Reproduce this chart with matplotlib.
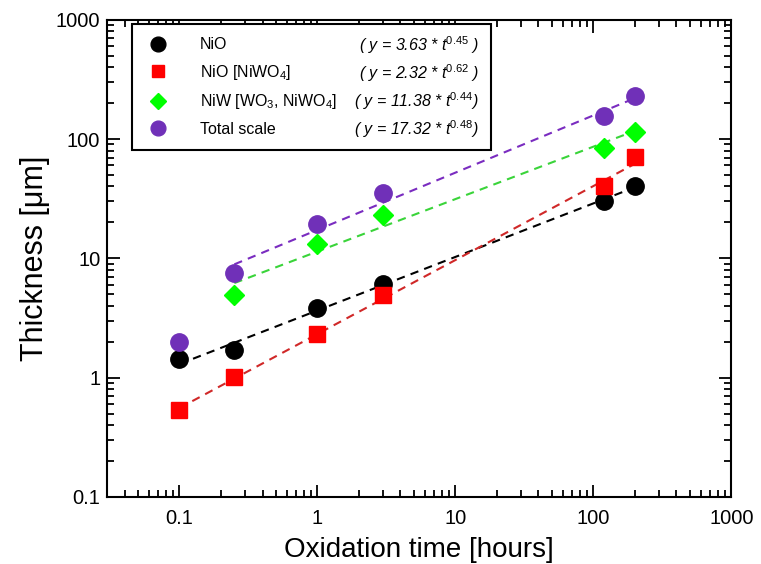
import matplotlib
matplotlib.use("Agg")
import matplotlib.pyplot as plt
from matplotlib.ticker import LogLocator, FuncFormatter, NullFormatter

plt.rcParams["font.family"] = ["Liberation Sans", "DejaVu Sans"]
plt.rcParams["mathtext.fontset"] = "custom"
plt.rcParams["mathtext.rm"] = "Liberation Sans"
plt.rcParams["mathtext.it"] = "Liberation Sans:italic"

# measured thickness (um) vs oxidation time (hours)
t_nio = [0.1, 0.25, 1, 3, 120, 200]
nio = [1.42, 1.69, 3.85, 6.1, 30.5, 40]
t_niwo4 = [0.1, 0.25, 1, 3, 120, 200]
nio_niwo4 = [0.53, 1.02, 2.34, 4.9, 40, 71]
t_niw = [0.25, 1, 3, 120, 200]
niw = [4.9, 13.3, 23, 84, 115]
t_total = [0.1, 0.25, 1, 3, 120, 200]
total = [1.97, 7.6, 19.3, 35, 156, 228]

# fitted power-law lines (end points)
fit_nio_t = [0.1, 200]
fit_nio_y = [1.3, 39.4]
fit_niwo4_t = [0.1, 200]
fit_niwo4_y = [0.556, 62]
fit_niw_t = [0.25, 200]
fit_niw_y = [6.2, 117]
fit_total_t = [0.25, 200]
fit_total_y = [8.9, 220]

labels = ["NiO", "NiO [NiWO$_4$]", "NiW [WO$_3$, NiWO$_4$]", "Total scale"]
equations = [
    r"( y = 3.63 * t$^{\mathit{0.45}}$ )",
    r"( y = 2.32 * t$^{\mathit{0.62}}$ )",
    r"( y = 11.38 * t$^{\mathit{0.44}}$)",
    r"( y = 17.32 * t$^{\mathit{0.48}}$)",
]

fig = plt.figure(figsize=(7.61, 5.64), dpi=100)
ax = fig.add_axes([0.141, 0.119, 0.82, 0.846])

dash = (0, (4, 3))
ax.plot(fit_nio_t, fit_nio_y, color="black", lw=1.5, ls=dash)
ax.plot(fit_niwo4_t, fit_niwo4_y, color="#d02828", lw=1.5, ls=dash)
ax.plot(fit_niw_t, fit_niw_y, color="#3ad43a", lw=1.5, ls=dash)
ax.plot(fit_total_t, fit_total_y, color="#7a2cc0", lw=1.5, ls=dash)

h1, = ax.plot(t_nio, nio, "o", color="black", ms=12.5, ls="none")
h2, = ax.plot(t_niwo4, nio_niwo4, "s", color="#ff0000", ms=11, ls="none")
h3, = ax.plot(t_niw, niw, "D", color="#00ff00", ms=10, ls="none")
h4, = ax.plot(t_total, total, "o", color="#7030b8", ms=12.5, ls="none")

ax.set_xscale("log")
ax.set_yscale("log")
ax.set_xlim(0.03, 1000)
ax.set_ylim(0.1, 1000)

fmt = FuncFormatter(lambda v, p: "%g" % v)
for axis in (ax.xaxis, ax.yaxis):
    axis.set_major_locator(LogLocator(base=10))
    axis.set_minor_locator(LogLocator(base=10, subs=range(2, 10)))
    axis.set_major_formatter(fmt)
    axis.set_minor_formatter(NullFormatter())

ax.tick_params(which="both", direction="in", top=True, right=True, width=1.3)
ax.tick_params(which="major", length=9, labelsize=14.5)
ax.tick_params(axis="x", which="major", pad=9)
ax.tick_params(axis="y", which="major", pad=5)
ax.tick_params(which="minor", length=5)
for s in ax.spines.values():
    s.set_linewidth(1.5)

ax.set_xlabel("Oxidation time [hours]", fontsize=20, labelpad=6)
ax.set_ylabel("Thickness [\u03bcm]", fontsize=22, labelpad=4)

leg = ax.legend([h1, h2, h3, h4], labels, loc="upper left",
                bbox_to_anchor=(0.04, 0.992, 0.575, 0.0), mode="expand",
                borderaxespad=0, fontsize=11.5, frameon=True, fancybox=False,
                framealpha=1, edgecolor="black", handletextpad=1.9,
                labelspacing=0.66, borderpad=0.85, handlelength=1.5,
                markerscale=0.85)
leg.get_frame().set_linewidth(1.5)

for i, eq in enumerate(equations):
    ax.text(0.595, 0.946 - i * 0.0585, eq, transform=ax.transAxes, ha="right",
            va="center", fontsize=11.5, style="italic", zorder=10)

fig.savefig("out.png", dpi=100)
